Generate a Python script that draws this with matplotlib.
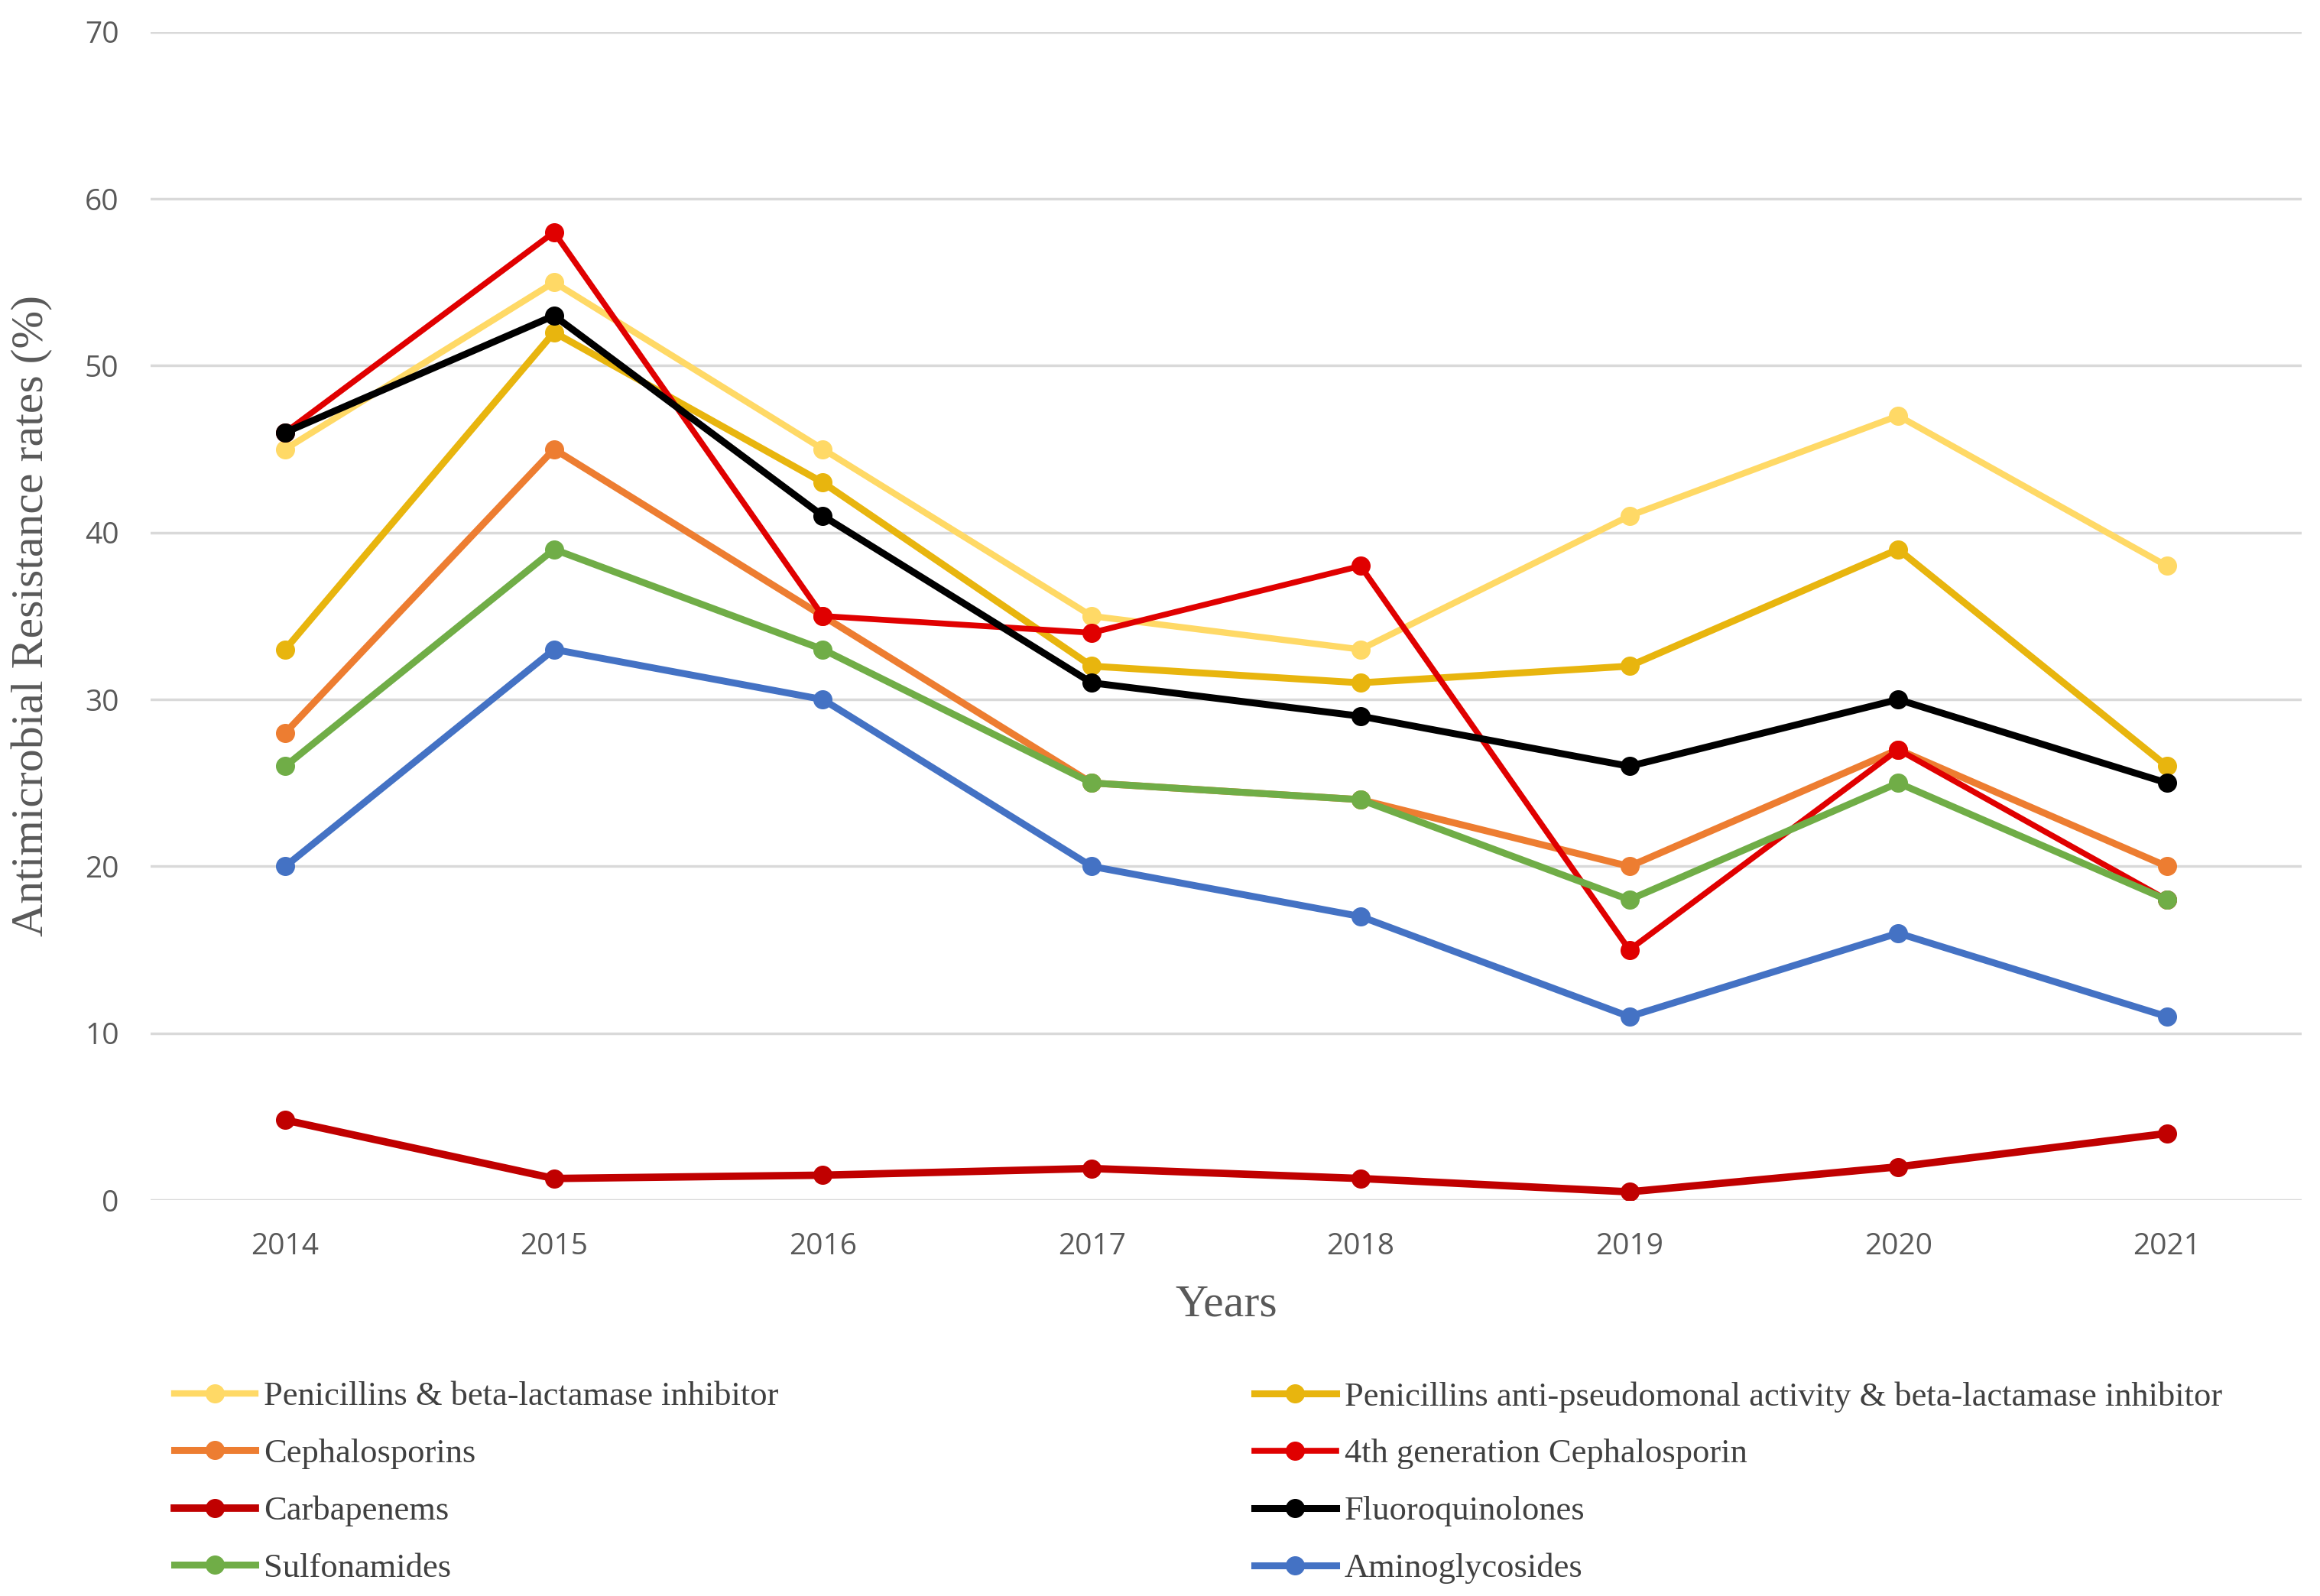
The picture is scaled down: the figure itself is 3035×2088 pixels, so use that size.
import matplotlib
matplotlib.use("Agg")
import matplotlib.pyplot as plt

years = ["2014", "2015", "2016", "2017", "2018", "2019", "2020", "2021"]
series_names = [
    "Penicillins & beta-lactamase inhibitor",
    "Penicillins anti-pseudomonal activity & beta-lactamase inhibitor",
    "Cephalosporins",
    "4th generation Cephalosporin",
    "Carbapenems",
    "Fluoroquinolones",
    "Sulfonamides",
    "Aminoglycosides",
]
pen_bli = [45, 55, 45, 35, 33, 41, 47, 38]
pen_antipseudo = [33, 52, 43, 32, 31, 32, 39, 26]
cephalosporins = [28, 45, 35, 25, 24, 20, 27, 20]
ceph_4th = [46, 58, 35, 34, 38, 15, 27, 18]
carbapenems = [4.8, 1.3, 1.5, 1.9, 1.3, 0.5, 2.0, 4.0]
fluoroquinolones = [46, 53, 41, 31, 29, 26, 30, 25]
sulfonamides = [26, 39, 33, 25, 24, 18, 25, 18]
aminoglycosides = [20, 33, 30, 20, 17, 11, 16, 11]
y_ticks = [0, 10, 20, 30, 40, 50, 60, 70]

values = [pen_bli, pen_antipseudo, cephalosporins, ceph_4th, carbapenems,
          fluoroquinolones, sulfonamides, aminoglycosides]
colors = ["#FFD966", "#E8B50E", "#ED7D31", "#E00000", "#C00000",
          "#000000", "#70AD47", "#4472C4"]
widths = [6.0, 6.5, 6.5, 5.5, 7.0, 6.5, 6.5, 6.5]

fig = plt.figure(figsize=(30.35, 20.88), dpi=100)
ax = fig.add_axes([0.065, 0.248, 0.927, 0.732])

xs = list(range(len(years)))
handles = []
for name, vals, c, lw in zip(series_names, values, colors, widths):
    h, = ax.plot(xs, vals, color=c, lw=lw, marker="o", markersize=17,
                 markerfacecolor=c, markeredgecolor=c, label=name,
                 solid_joinstyle="miter")
    handles.append(h)

ax.set_xlim(-0.5, len(years) - 0.5)
ax.set_ylim(0, 70)
ax.set_yticks(y_ticks)
ax.set_xticks(xs)
ax.set_xticklabels(years)
ax.grid(axis="y", color="#D9D9D9", lw=2.5)
ax.set_axisbelow(True)
for s in ax.spines.values():
    s.set_visible(False)
ax.tick_params(axis="both", length=0, labelsize=28, labelcolor="#595959")
ax.tick_params(axis="y", pad=30)
ax.tick_params(axis="x", pad=30)
for lab in ax.get_xticklabels() + ax.get_yticklabels():
    lab.set_fontfamily("Open Sans")

ax.set_xlabel("Years", fontsize=43, family="Liberation Serif", color="#595959",
              labelpad=22)
ax.set_ylabel("Antimicrobial Resistance rates (%)", fontsize=43,
              family="Liberation Serif", color="#595959", labelpad=30)

col1 = [handles[i] for i in (0, 2, 4, 6)]
col2 = [handles[i] for i in (1, 3, 5, 7)]
common = dict(frameon=False, prop={"family": "Liberation Serif", "size": 32},
              handlelength=2.4, handletextpad=0.25, labelspacing=0.78,
              borderpad=0, borderaxespad=0, loc="upper left",
              labelcolor="#404040")
fig.legend(handles=col1, labels=[h.get_label() for h in col1],
           bbox_to_anchor=(0.075, 0.1345), **common)
fig.legend(handles=col2, labels=[h.get_label() for h in col2],
           bbox_to_anchor=(0.5407, 0.1345), **common)

fig.savefig("out.png", dpi=100)
